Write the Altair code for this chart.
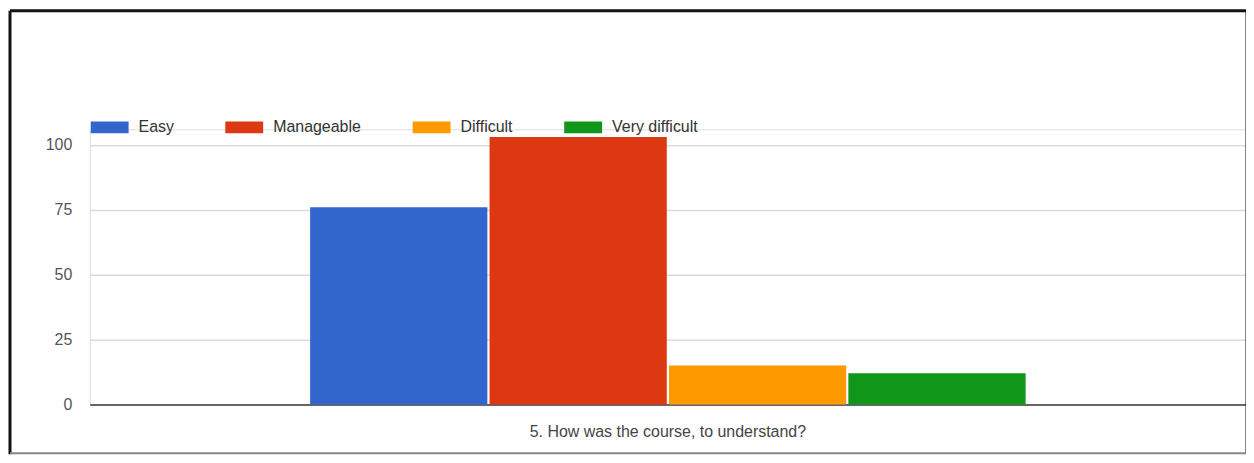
import altair as alt
import pandas as pd

question = "5. How was the course, to understand?"
series = ["Easy", "Manageable", "Difficult", "Very difficult"]
counts = [76, 103, 15, 12]
colors = ["#3366CC", "#DC3912", "#FF9900", "#109618"]
y_ticks = [0, 25, 50, 75, 100]

df = pd.DataFrame({"question": [question] * len(series), "answer": series, "count": counts})

FONT = "Liberation Sans"
W, H = 1160, 276

bars = alt.Chart(df).mark_bar().encode(
    x=alt.X("question:N", title=None,
            scale=alt.Scale(paddingInner=0, paddingOuter=0.308),
            axis=alt.Axis(labelAngle=0, ticks=False, labelPadding=19, labelFontSize=16,
                          labelLimit=0, labelColor="#444", labelFont=FONT,
                          domainColor="#666", domainWidth=2, grid=False)),
    xOffset=alt.XOffset("answer:N", sort=series, scale=alt.Scale(paddingInner=0.012)),
    y=alt.Y("count:Q", title=None,
            scale=alt.Scale(domain=[0, 106], nice=False),
            axis=alt.Axis(values=y_ticks, domain=False, ticks=False, labelPadding=18,
                          labelFontSize=16, labelColor="#555", labelFont=FONT,
                          gridColor="#dcdcdc", gridWidth=1.5)),
    color=alt.Color("answer:N", sort=series,
                    scale=alt.Scale(domain=series, range=colors),
                    legend=alt.Legend(title=None, orient="none", direction="horizontal",
                                      legendX=8, legendY=-14,
                                      symbolType="M-1.6,-0.5H1.6V0.5H-1.6Z",
                                      symbolSize=564, symbolStrokeWidth=0, symbolOpacity=1,
                                      labelOffset=17, columnPadding=51,
                                      labelFontSize=16, labelColor="#333", labelFont=FONT)),
)

# border lines drawn around the whole chart (decoration)
top = alt.Chart(pd.DataFrame({"k": [0]})).mark_rule(color="#111", strokeWidth=3).encode(
    x=alt.value(-80), x2=alt.value(W + 2), y=alt.value(-119), y2=alt.value(-119))
left = alt.Chart(pd.DataFrame({"k": [0]})).mark_rule(color="#111", strokeWidth=3).encode(
    x=alt.value(-80), x2=alt.value(-80), y=alt.value(-119), y2=alt.value(H + 50))
right = alt.Chart(pd.DataFrame({"k": [0]})).mark_rule(color="#111", strokeWidth=3).encode(
    x=alt.value(W + 1), x2=alt.value(W + 1), y=alt.value(-119), y2=alt.value(H + 50))
bottom = alt.Chart(pd.DataFrame({"k": [0]})).mark_rule(color="#888", strokeWidth=2).encode(
    x=alt.value(-80), x2=alt.value(W + 2), y=alt.value(H + 49), y2=alt.value(H + 49))

chart = alt.layer(bars, top, left, right, bottom).properties(
    width=W, height=H,
    autosize=alt.AutoSizeParams(type="none"),
    padding={"left": 82, "top": 121, "right": 0, "bottom": 50},
).configure_view(stroke=None).configure(background="white")

chart.save("out.html", embed_options={"renderer": "svg", "actions": False})
